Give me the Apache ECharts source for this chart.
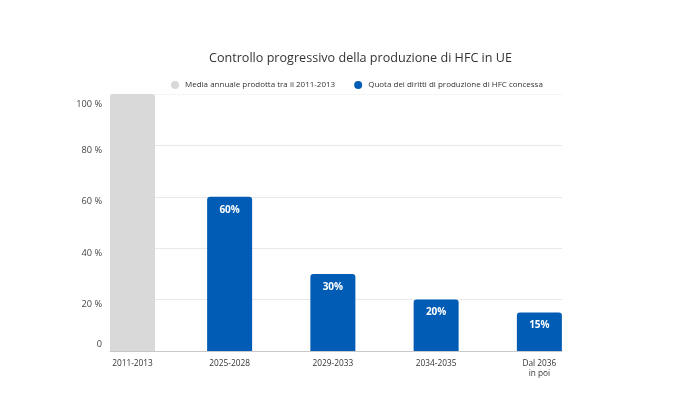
<!DOCTYPE html>
<html>
<head>
<meta charset="utf-8">
<script src="https://cdn.jsdelivr.net/npm/echarts@6/dist/echarts.min.js"></script>
<style>html,body{margin:0;padding:0;background:#fff}#c{width:700px;height:393px}</style>
</head>
<body>
<div id="c"></div>
<script>
const titleText = 'Controllo progressivo della produzione di HFC in UE';
const grayCategories = ['2011-2013'];
const blueCategories = ['2025-2028', '2029-2033', '2034-2035', 'Dal 2036\nin poi'];
const grayName = 'Media annuale prodotta tra il 2011-2013';
const blueName = 'Quota dei diritti di produzione di HFC concessa';
const grayValues = [100];
const blueValues = [60, 30, 20, 15];
const yTicks = [0, 20, 40, 60, 80, 100];

const font = 'Open Sans';
const allCategories = grayCategories.concat(blueCategories);
const chart = echarts.init(document.getElementById('c'), null, {renderer: 'canvas'});
const hiddenY = (gi) => ({gridIndex: gi, type: 'value', min: yTicks[0], max: yTicks[yTicks.length - 1], interval: 20, show: false, splitLine: {show: false}});
const xLabel = {fontFamily: font, fontSize: 8.3, color: '#333', margin: 8, lineHeight: 10};
chart.setOption({
  animation: false,
  textStyle: {fontFamily: font},
  title: {
    text: titleText, left: 204, top: 47,
    textStyle: {fontFamily: font, fontSize: 12.6, fontWeight: 'normal', color: '#333'}
  },
  legend: {
    top: 76, left: 166, icon: 'circle', itemWidth: 8, itemHeight: 8, itemGap: 19,
    textStyle: {fontFamily: font, fontSize: 8, color: '#333', padding: [0, 0, 0, 1]},
    data: [grayName, blueName]
  },
  grid: [
    {left: 110, right: 138, top: 94, bottom: 42},
    {left: 110, width: 45, top: 94, bottom: 42},
    {left: 178, right: 109, top: 94, bottom: 42}
  ],
  xAxis: [
    {gridIndex: 0, type: 'category', data: allCategories,
     axisLine: {show: true, lineStyle: {color: '#c8c8c8'}}, axisTick: {show: false}, axisLabel: {show: false}},
    {gridIndex: 1, type: 'category', data: grayCategories,
     axisLine: {show: false}, axisTick: {show: false}, axisLabel: xLabel},
    {gridIndex: 2, type: 'category', data: blueCategories,
     axisLine: {show: false}, axisTick: {show: false}, axisLabel: xLabel}
  ],
  yAxis: [
    {gridIndex: 0, type: 'value', min: yTicks[0], max: yTicks[yTicks.length - 1], interval: 20,
     axisLine: {show: false}, axisTick: {show: false},
     splitLine: {show: true, lineStyle: {color: ['#e8e8e8', '#e8e8e8', '#e8e8e8', '#e8e8e8', '#e8e8e8', '#f5f5f5']}},
     axisLabel: {
       margin: 8,
       formatter: v => v === 0 ? '{z|0}' : (v === 100 ? '{t|' + v + ' %}' : '{a|' + v + ' %}'),
       rich: {
         a: {fontFamily: font, fontSize: 9.2, color: '#444', padding: [10, 0, 0, 0]},
         t: {fontFamily: font, fontSize: 9.2, color: '#444', padding: [20, 0, 0, 0]},
         z: {fontFamily: font, fontSize: 9.2, color: '#444', padding: [0, 0, 14, 0]}
       }
     }},
    hiddenY(1),
    hiddenY(2)
  ],
  series: [
    {name: grayName, type: 'bar', xAxisIndex: 1, yAxisIndex: 1, data: grayValues,
     barWidth: 45,
     itemStyle: {color: '#d9d9d9', borderRadius: [3, 3, 0, 0]}},
    {name: blueName, type: 'bar', xAxisIndex: 2, yAxisIndex: 2, data: blueValues,
     barWidth: 45,
     itemStyle: {color: '#005cb4', borderRadius: [3, 3, 0, 0]},
     label: {show: true, position: 'insideTop', distance: 8, formatter: '{c}%',
             fontFamily: font, fontSize: 10, fontWeight: 'bold', color: '#fff'}}
  ]
});
</script>
</body>
</html>
